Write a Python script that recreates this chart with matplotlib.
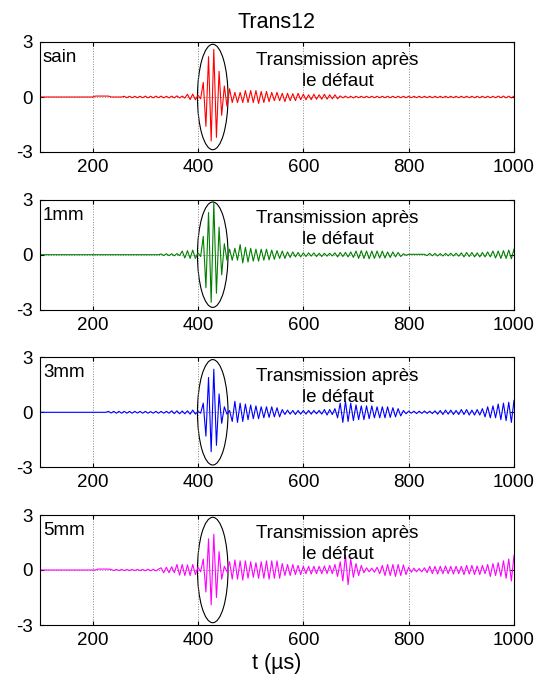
import numpy as np
import matplotlib
matplotlib.use("Agg")
import matplotlib.pyplot as plt
from matplotlib.patches import Ellipse

# ==========================================
# 1. DATA (signed peak values, one every 5 us)
# ==========================================

t_start, t_stop, t_step = 100, 1000, 5

sain = [
    0, 0, 0, 0, 0, 0, 0, 0, 0, 0, 0, 0, 0, 0, 0, 0, 0, 0, 0, 0,
    0, .05, .05, .05, .05, .05, .05, 0, 0, 0, 0, 0, .04, -.04, .04, -.04, .04, -.04, .04, -.04,
    .05, -.05, .04, -.05, .05, -.04, .05, -.05, .04, -.05, .05, -.05, .06, -.05, .05, -.06, .15, -.14, .16, -.15,
    .1, -.1, .8, -1.6, 2.2, -2.4, 2.6, -2.2, 1.4, -1.0, .6, -.5, .45, -.3, .25, -.3, .25, -.3, .35, -.3,
    .35, -.3, .35, -.35, .3, -.3, .3, -.25, .25, -.2, .25, -.2, .2, -.25, .2, -.2, .18, -.2, .2, -.15,
    .15, -.15, .12, -.15, .15, -.12, .12, -.12, .15, -.12, .12, -.1, .12, -.1, .06, -.05, .05, -.05, .04, -.05,
    .04, -.04, .04, -.04, .04, -.04, .04, -.04, .04, -.04, .04, -.04, .04, -.04, .04, -.04, .04, -.04, .04, -.04,
    .04, -.04, .04, -.04, .04, -.04, .04, -.04, .04, -.04, .04, -.04, .04, -.04, .04, -.04, .04, -.04, .04, -.04,
    .04, -.04, .04, -.04, .04, -.04, .04, -.04, .04, -.04, .04, -.04, .04, -.04, .05, -.04, .05, -.05, .05, -.05,
    .05,
]

d1mm = [
    0, 0, 0, 0, 0, 0, 0, 0, 0, 0, 0, 0, 0, 0, 0, 0, 0, 0, 0, 0,
    0, 0, 0, 0, 0, 0, 0, 0, 0, 0, 0, 0, 0, 0, 0, 0, 0, 0, 0, 0,
    0, 0, 0, 0, 0, 0, .04, -.04, .05, -.05, .05, -.06, .06, -.05, .2, -.18, .22, -.2, .25, -.2,
    .1, -.1, 1.0, -1.8, 2.3, -2.6, 2.85, -2.1, 1.5, -1.1, .6, -.3, .3, -.3, .35, -.3, .55, -.45, .4, -.4,
    .35, -.35, .3, -.35, .3, -.3, .3, -.28, .25, -.25, .22, -.2, .2, -.2, .15, -.15, .15, -.12, .12, -.12,
    .1, -.1, .1, -.08, .1, -.1, .08, -.1, .08, -.08, .08, -.07, .1, -.12, .12, -.1, .12, -.12, .15, -.15,
    .2, -.2, .22, -.2, .2, -.22, .2, -.2, .2, -.18, .2, -.18, .15, -.15, .15, -.12, .12, -.1, .05, -.03,
    .02, .02, .02, .02, .02, .02, .02, -.05, .07, -.06, .07, -.07, .06, -.07, .07, -.06, .08, -.07, .08, -.08,
    .1, -.12, .12, -.1, .12, -.12, .1, -.12, .12, -.12, .15, -.12, .2, -.18, .2, -.2, .22, -.2, .25, -.22,
    .3,
]

d3mm = [
    0, 0, 0, 0, 0, 0, 0, 0, 0, 0, 0, 0, 0, 0, 0, 0, 0, 0, 0, 0,
    0, 0, 0, 0, 0, 0, .05, -.04, .05, -.05, .05, -.05, .05, -.05, .05, -.05, .05, -.04, .05, -.05,
    .05, -.05, .04, -.05, .05, -.05, .05, -.05, .05, -.05, .08, -.07, .08, -.08, .07, -.08, .08, -.1, .12, -.1,
    .05, -.05, .5, -1.3, 1.9, -2.15, 2.35, -1.8, 1.0, -.6, .3, -.1, .1, -.5, .6, -.55, .5, -.5, .45, -.4,
    .4, -.35, .35, -.35, .3, -.3, .3, -.28, .3, -.25, .25, -.25, .15, -.12, .12, -.1, .1, -.12, .1, -.1,
    .1, -.1, .1, -.1, .1, -.08, .1, -.1, .15, -.15, .15, -.12, .2, -.3, .5, -.55, .6, -.5, .5, -.45,
    .4, -.4, .35, -.4, .35, -.35, .35, -.3, .3, -.3, .3, -.3, .3, -.28, .25, -.25, .2, -.2, .1, -.08,
    .06, -.05, .06, -.07, .06, -.06, .07, -.06, .06, -.07, .08, -.1, .1, -.12, .12, -.1, .12, -.12, .1, -.12,
    .15, -.12, .15, -.15, .12, -.15, .15, -.15, .2, -.25, .3, -.3, .35, -.3, .45, -.4, .5, -.45, .55, -.55,
    .65,
]

d5mm = [
    0, 0, 0, 0, 0, 0, 0, 0, 0, 0, 0, 0, 0, 0, 0, 0, 0, 0, 0, 0,
    0, 0, .05, .05, .05, .05, .05, .03, -.03, .03, -.03, .03, -.03, .03, -.03, .03, -.03, .03, -.03, .03,
    -.04, .04, -.04, .04, -.05, .05, .12, -.15, .15, -.15, .18, -.15, .3, -.28, .3, -.3, .28, -.3, .3, -.25,
    .15, -.1, .6, -1.2, 1.7, -1.9, 1.95, -1.5, 1.0, -.5, .2, -.1, .45, -.5, .55, -.5, .5, -.55, .5, -.45,
    .45, -.4, .4, -.45, .45, -.45, .5, -.5, .5, -.45, .5, -.45, .35, -.3, .3, -.3, .3, -.25, .25, -.25,
    .2, -.2, .2, -.22, .2, -.2, .2, -.2, .22, -.2, .25, -.2, .3, -.35, .45, -.6, .8, -.8, .6, -.4,
    .35, -.3, .25, -.15, .12, -.1, .1, -.12, .15, -.2, .25, -.3, .3, -.3, .3, -.35, .3, -.3, .28, -.25,
    .15, -.12, .1, -.1, .08, -.1, .12, -.15, .2, -.2, .2, -.22, .2, -.2, .22, -.2, .2, -.22, .2, -.2,
    .2, -.25, .25, -.22, .25, -.25, .22, -.25, .25, -.2, .3, -.35, .35, -.3, .4, -.35, .5, -.45, .6, -.6,
    .8,
]

panel_labels = ["sain", "1mm", "3mm", "5mm"]
panel_colors = ["#ff0000", "#008000", "#0000ff", "#ff00ff"]
series = [sain, d1mm, d3mm, d5mm]

x_ticks = [200, 400, 600, 800, 1000]
y_ticks = [-3, 0, 3]

# ==========================================
# 2. FIGURE
# ==========================================

plt.rcParams["font.family"] = ["Liberation Sans", "DejaVu Sans"]
plt.rcParams["font.size"] = 13.5
plt.rcParams["axes.unicode_minus"] = False  # plain hyphen like the original

fig = plt.figure(figsize=(5.47, 6.89), dpi=100)
t = np.arange(t_start, t_stop + 1, t_step)

ax_left, ax_width, ax_height = 40 / 547, 474 / 547, 110 / 689
tops = [42, 199.7, 357.3, 515]

for i, (vals, lab, col) in enumerate(zip(series, panel_labels, panel_colors)):
    bottom = 1 - (tops[i] + 110) / 689
    ax = fig.add_axes([ax_left, bottom, ax_width, ax_height])
    ax.plot(t, vals, color=col, linewidth=0.8)

    ax.set_xlim(100, 1000)
    ax.set_ylim(-3, 3)
    ax.set_xticks(x_ticks)
    ax.set_yticks(y_ticks)
    ax.tick_params(direction="in", top=True, right=True, length=3, pad=5)
    ax.grid(True, color="#888888", linestyle=":", linewidth=0.7)

    # highlighted packet
    ax.add_patch(Ellipse((428, 0.0), 58, 5.75, fill=False,
                         edgecolor="black", linewidth=0.8))

    ax.text(0.006, 0.86, lab, transform=ax.transAxes, ha="left", va="center")
    ax.text(665, 1.4, "Transmission après\nle défaut", ha="center", va="center",
            multialignment="center", linespacing=1.3)

    if i == 0:
        ax.set_title("Trans12", fontsize=15.5, pad=10)
    if i == 3:
        ax.set_xlabel("t (µs)", fontsize=15.5, labelpad=3)

fig.savefig("out.png", dpi=100)
